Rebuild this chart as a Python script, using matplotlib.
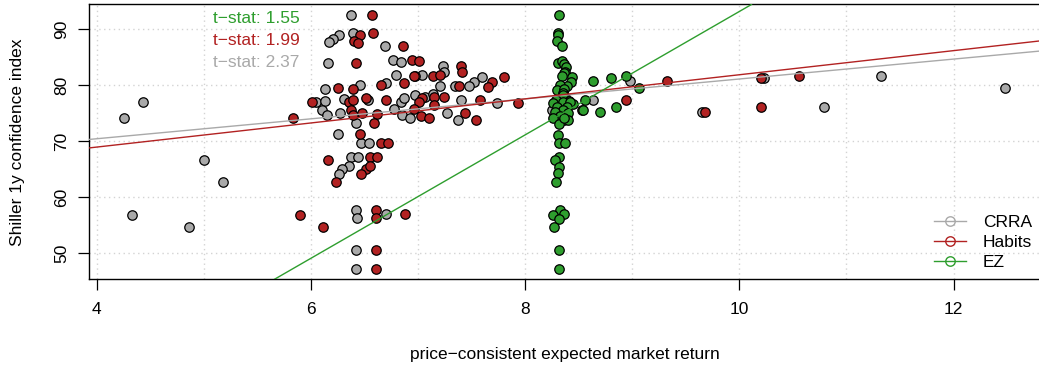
import matplotlib
matplotlib.use("Agg")
import matplotlib.pyplot as plt
from matplotlib.lines import Line2D

plt.rcParams['font.family'] = ['Liberation Sans', 'DejaVu Sans']

# expected return (x) vs Shiller 1y confidence index (y), one set per model
crra_x = [4.26, 4.43, 5.00, 5.18, 4.33, 4.86,
          6.37, 6.39, 6.26, 6.21, 6.17, 6.69, 6.16, 6.77, 6.84,
          7.23, 7.24, 6.79, 7.04, 7.60, 6.97, 7.52, 7.48, 7.35, 7.21, 6.70, 6.46, 6.13,
          8.98, 10.23, 11.32, 12.48, 8.63, 6.97, 7.07, 7.14, 7.40, 7.74,
          6.05, 6.13, 6.31, 6.53, 6.84, 6.87, 6.10, 6.15, 6.27, 6.78, 6.85, 6.93, 7.27, 7.37,
          6.42, 6.25, 9.65, 10.79, 6.47, 6.54, 6.37, 6.44, 6.36, 6.29, 6.26,
          6.42, 6.43, 6.70, 6.42, 6.42, 8.25]
crra_y = [74.13, 77.04, 66.73, 62.69, 56.85, 54.75,
          92.65, 89.32, 89.07, 88.30, 87.82, 87.05, 84.07, 84.50, 84.24,
          83.48, 82.40, 81.78, 81.92, 81.51, 81.60, 80.53, 79.90, 79.90, 79.90, 80.38, 80.08, 79.31,
          80.80, 81.39, 81.74, 79.60, 77.40, 78.24, 77.88, 78.47, 77.35, 76.81,
          77.10, 77.22, 77.63, 77.35, 77.04, 77.76, 75.61, 74.72, 75.13, 75.74, 74.72, 74.13, 75.13, 73.82,
          73.20, 71.23, 75.20, 76.20, 69.66, 69.66, 67.27, 67.27, 65.66, 65.07, 64.12,
          57.74, 56.26, 56.97, 50.59, 47.14, 75.61]

habits_x = [6.57, 6.58, 6.46, 6.40, 6.44, 6.86, 6.42, 6.94, 7.01,
            7.40, 7.41, 6.96, 7.14, 7.21, 7.80, 7.69, 7.65, 7.38, 6.87, 6.65, 6.39, 6.25,
            9.32, 10.20, 10.56, 8.94, 7.04, 7.15, 7.24, 7.01, 7.15, 7.58, 7.93,
            6.01, 6.36, 6.39, 6.51, 6.70, 6.37, 6.39, 6.48, 6.62, 6.96, 7.44, 7.03, 7.10, 7.54,
            5.83, 6.59, 6.46, 9.68, 10.20,
            6.65, 6.72, 6.16, 6.55, 6.62, 6.51, 6.55, 6.47, 6.23,
            6.61, 6.61, 6.88, 5.90, 6.11, 6.61, 6.61, 8.53]
habits_y = [92.65, 89.32, 89.07, 87.94, 87.59, 87.05, 84.07, 84.50, 84.28,
            83.48, 82.37, 81.72, 81.64, 81.87, 81.51, 80.53, 79.78, 79.90, 80.35, 80.08, 79.31, 79.63,
            80.80, 81.39, 81.74, 77.40, 77.70, 77.99, 77.99, 76.99, 76.51, 77.35, 76.81,
            77.10, 76.99, 77.31, 77.70, 77.31, 75.61, 74.63, 75.11, 74.84, 75.74, 75.13, 74.59, 74.13, 73.82,
            74.13, 73.20, 71.23, 75.20, 76.20,
            69.66, 69.66, 66.68, 67.27, 67.27, 65.07, 65.66, 64.12, 62.69,
            57.74, 56.26, 56.97, 56.85, 54.75, 50.59, 47.14, 75.61]

ez_x = [8.32, 8.31, 8.31, 8.30, 8.34, 8.31, 8.34, 8.36, 8.38, 8.37, 8.36, 8.34, 8.44,
        8.43, 8.39, 8.33, 8.30, 8.36, 8.63, 8.80, 8.94, 9.06,
        8.35, 8.37, 8.35, 8.28, 8.41, 8.45, 8.56, 8.54, 8.70, 8.85,
        8.29, 8.35, 8.42, 8.26, 8.30, 8.39, 8.35, 8.28, 8.40, 8.33, 8.36, 8.40, 8.26, 8.32, 8.36,
        8.31, 8.32, 8.37, 8.32, 8.28, 8.32, 8.31, 8.29,
        8.33, 8.26, 8.36, 8.32, 8.27, 8.32, 8.32]
ez_y = [92.65, 89.32, 89.00, 88.00, 87.05, 84.07, 84.42, 83.83, 83.35, 82.46, 82.17, 81.69, 81.46,
        80.56, 79.96, 80.08, 79.19, 79.37, 80.85, 81.33, 81.74, 79.60,
        78.60, 77.99, 78.30, 77.10, 77.27, 76.68, 77.40, 75.61, 75.20, 76.20,
        77.40, 77.10, 77.10, 76.81, 76.20, 76.20, 75.61, 75.31, 75.02, 74.54, 73.82, 73.82, 74.13, 73.11, 74.13,
        71.14, 69.66, 69.66, 67.27, 66.68, 65.48, 64.30, 62.69,
        57.74, 56.85, 56.97, 56.18, 54.75, 50.59, 47.14]

# fitted lines (intercept, slope) and their t-stats
models = ['CRRA', 'Habits', 'EZ']
intercepts = [63.35, 60.36, -17.08]
slopes = [1.78, 2.155, 11.03]
tstats = ['2.37', '1.99', '1.55']
colors = ['#A9A9A9', '#B22222', '#2E9E2E']

fs = 12.5

fig = plt.figure(figsize=(10.39, 3.67), dpi=100)
ax = fig.add_axes([0.0859, 0.239, 0.9152, 0.7488])

ax.set_xlim(3.931, 12.808)
ax.set_ylim(45.35, 94.47)

for v in range(4, 13):
    ax.axvline(v, color='#D3D3D3', lw=1, ls=(0, (1, 2.5)), zorder=0)
for v in range(50, 100, 10):
    ax.axhline(v, color='#D3D3D3', lw=1, ls=(0, (1, 2.5)), zorder=0)

for xs, ys, c in [(crra_x, crra_y, colors[0]), (habits_x, habits_y, colors[1]), (ez_x, ez_y, colors[2])]:
    ax.plot(xs, ys, 'o', ms=6.8, mfc=c, mec='black', mew=0.9, ls='none', zorder=2)

for a, b, c in zip(intercepts, slopes, colors):
    ax.axline((0, a), slope=b, color=c, lw=1, zorder=3)

ty = [84.07, 88.12, 92.0]
for t, yy, c in zip(tstats, ty, colors):
    ax.text(5.09, yy, 't\u2212stat: ' + t, color=c, fontsize=fs, ha='left', va='center')

ax.set_xticks([4, 6, 8, 10, 12])
ax.set_yticks([50, 60, 70, 80, 90])
ax.set_yticklabels(['50', '60', '70', '80', '90'], rotation=90, va='center')
ax.tick_params(axis='both', labelsize=fs, length=7.6, width=0.9, direction='out')
ax.tick_params(axis='x', pad=9)
ax.tick_params(axis='y', pad=7)
for s in ax.spines.values():
    s.set_linewidth(1)

ax.set_xlabel('price\u2212consistent expected market return', fontsize=fs, va='center')
ax.xaxis.set_label_coords(0.5, (279.3 - 355) / 274.8)
ax.set_ylabel('Shiller 1y confidence index', fontsize=fs, va='center')
ax.yaxis.set_label_coords((18 - 89.3) / 950.7, 0.5)

handles = [Line2D([], [], color=c, marker='o', mfc='none', mec=c, ms=6.8, lw=1) for c in colors]
ax.legend(handles, models, loc='lower right', frameon=False, fontsize=fs,
          handlelength=1.85, handletextpad=0.95, labelspacing=0.28,
          bbox_to_anchor=(1032 / 1039, 1 - 270 / 367), bbox_transform=fig.transFigure,
          borderpad=0, borderaxespad=0)

fig.savefig('out.png', dpi=100)
